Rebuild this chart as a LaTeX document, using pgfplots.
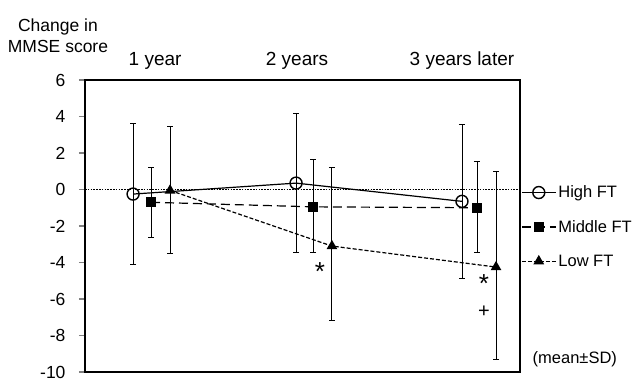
\documentclass[border=0pt]{standalone}
\usepackage{fontspec}
\setmainfont{Liberation Sans}
\usepackage{pgfplots}
\usepackage{pgfplotstable}
\pgfplotsset{compat=1.18}
\pgfplotstableread{
x y ep em
0.89 -0.25 3.85 3.85
1.89 0.35 3.8 3.8
2.908 -0.65 4.2 4.2
}\high
\pgfplotstableread{
x y ep em
1.0 -0.7 1.9 1.9
1.994 -0.95 2.6 2.5
3.0 -1.0 2.55 2.45
}\middle
\pgfplotstableread{
x y ep em
1.117 -0.05 3.5 3.45
2.11 -3.1 4.3 4.1
3.117 -4.25 5.25 5.05
}\low
\begin{document}
\begin{tikzpicture}[font=\fontsize{17}{21}\selectfont]
\useasboundingbox (0,0) rectangle (635pt,381pt);
\begin{axis}[
  at={(85pt,9pt)}, anchor=south west, scale only axis,
  width=435pt, height=292pt,
  xmin=0.595, xmax=3.264, ymin=-10, ymax=6,
  ytick={-10,-8,...,6}, ytick pos=left, tick align=outside,
  major tick length=6pt,
  y tick style={line width=1.2pt},
  yticklabel style={xshift=-10pt, font=\fontsize{17.5}{21}\selectfont},
  xtick={1.025,1.896,2.908}, xticklabels={1 year,2 years,3 years later},
  xticklabel pos=top, x tick style={draw=none},
  xticklabel style={anchor=base, yshift=8pt, font=\fontsize{19}{21}\selectfont},
  /pgf/number format/assume math mode=true,
  axis line style={line width=1.5pt},
  legend style={at={(1.0,0.652)}, anchor=north west, draw=none, fill=none,
    inner xsep=1pt, row sep=17pt, font=\fontsize{16.5}{20}\selectfont,
    nodes={xshift=2pt}},
  legend cell align=left,
  legend image code/.code={\draw[mark repeat=2,mark phase=2,#1] plot coordinates {(0pt,0pt) (17pt,0pt) (34pt,0pt)};},
  clip=false,
]
\addplot[black, dash pattern=on 1.6pt off 1.2pt, line width=1.7pt, forget plot] coordinates {(0.595,0) (3.264,0)};
\addplot[black, line width=1.2pt, mark=o, mark size=6pt, mark options={solid, fill=white, line width=1.4pt},
  error bars/.cd, y dir=both, y explicit, error bar style={solid, line width=0.9pt},
  error mark options={rotate=90, mark size=3pt, line width=0.9pt}]
  table[x=x, y=y, y error plus=ep, y error minus=em] {\high};
\addlegendentry{High FT}
\addplot[black, line width=1.2pt, dash pattern=on 9pt off 5pt, mark=square*, mark size=4.5pt, mark options={solid},
  error bars/.cd, y dir=both, y explicit, error bar style={solid, line width=0.9pt},
  error mark options={rotate=90, mark size=3pt, line width=0.9pt}]
  table[x=x, y=y, y error plus=ep, y error minus=em] {\middle};
\addlegendentry{Middle FT}
\addplot[black, line width=1.2pt, dash pattern=on 4pt off 2pt, mark=triangle*, mark size=5pt, mark options={solid},
  error bars/.cd, y dir=both, y explicit, error bar style={solid, line width=0.9pt},
  error mark options={rotate=90, mark size=3pt, line width=0.9pt}]
  table[x=x, y=y, y error plus=ep, y error minus=em] {\low};
\addlegendentry{Low FT}
\node[inner sep=0pt, font=\fontsize{26}{26}\selectfont] at (axis cs:2.037,-4.5) {*};
\node[inner sep=0pt, font=\fontsize{26}{26}\selectfont] at (axis cs:3.043,-5.15) {*};
\node[inner sep=0pt, font=\fontsize{20}{20}\selectfont] at (axis cs:3.043,-6.7) {+};
\node[font=\fontsize{16.5}{20}\selectfont] at (rel axis cs:1.126,0.045) {(mean±SD)};
\end{axis}
\draw[line width=2.5pt] (85pt,9pt) -- (85pt,301pt);
\node[align=center, font=\fontsize{17.5}{21}\selectfont] at (58pt,345.5pt) {Change in\\MMSE score};
\end{tikzpicture}
\end{document}
